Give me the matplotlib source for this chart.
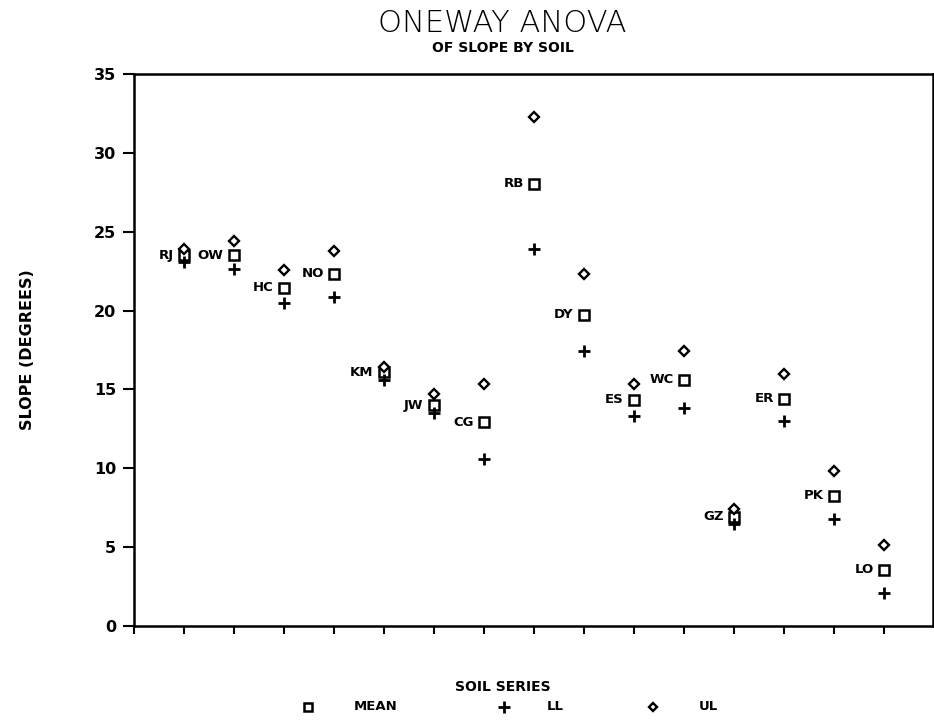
import matplotlib.pyplot as plt

# soil series, in plot order
soils = ['RJ', 'OW', 'HC', 'NO', 'KM', 'JW', 'CG', 'RB', 'DY', 'ES', 'WC', 'GZ', 'ER', 'PK', 'LO']
mean = [23.5, 23.5, 21.45, 22.35, 16.1, 14.0, 12.9, 28.05, 19.75, 14.35, 15.6, 6.9, 14.4, 8.25, 3.55]
ll = [23.1, 22.65, 20.5, 20.85, 15.6, 13.5, 10.6, 23.9, 17.45, 13.3, 13.8, 6.45, 13.0, 6.8, 2.05]
ul = [23.9, 24.45, 22.6, 23.8, 16.4, 14.7, 15.35, 32.3, 22.35, 15.35, 17.45, 7.4, 15.95, 9.8, 5.1]

yticks = [0, 5, 10, 15, 20, 25, 30, 35]

plt.rcParams['font.family'] = ['DejaVu Sans']

fig = plt.figure(figsize=(9.34, 7.25), dpi=100)
ax = fig.add_axes([0.1435, 0.137, 0.855, 0.7605])

x = list(range(1, len(soils) + 1))
ax.plot(x, mean, linestyle='none', marker='s', markersize=6.5, markerfacecolor='white',
        markeredgecolor='black', markeredgewidth=1.8, zorder=3)
ax.plot(x, ll, linestyle='none', marker='+', markersize=9, markeredgecolor='black',
        markeredgewidth=2, zorder=3)
ax.plot(x, ul, linestyle='none', marker='D', markersize=5, markerfacecolor='white',
        markeredgecolor='black', markeredgewidth=1.7, zorder=3)

for xi, yi, name in zip(x, mean, soils):
    ax.annotate(name, (xi, yi), xytext=(-7.5, 0), textcoords='offset points',
                ha='right', va='center', fontsize=9.5, fontweight='bold')

ax.set_xlim(0, 15.97)
ax.set_ylim(0, 35)
ax.set_xticks(range(0, 16))
ax.set_xticklabels([])
ax.set_yticks(yticks)
ax.set_yticklabels([str(v) for v in yticks], fontsize=11.5, fontweight='bold')
ax.tick_params(axis='y', direction='out', length=8, width=1.5, pad=5)
ax.tick_params(axis='x', direction='out', length=6, width=1.5)
for s in ax.spines.values():
    s.set_linewidth(1.8)

ax.set_ylabel('SLOPE (DEGREES)', fontsize=11.5, fontweight='bold', labelpad=42)

fig.text(0.538, 0.968, 'ONEWAY ANOVA', ha='center', va='center', fontsize=22, fontweight='light')
fig.text(0.538, 0.934, 'OF SLOPE BY SOIL', ha='center', va='center', fontsize=10, fontweight='bold')

fig.text(0.538, 0.052, 'SOIL SERIES', ha='center', va='center', fontsize=10, fontweight='bold')
fig.text(0.379, 0.025, 'MEAN', ha='left', va='center', fontsize=9.5, fontweight='bold')
fig.text(0.585, 0.025, 'LL', ha='left', va='center', fontsize=9.5, fontweight='bold')
fig.text(0.748, 0.025, 'UL', ha='left', va='center', fontsize=9.5, fontweight='bold')
fig.lines.append(plt.Line2D([0.33], [0.025], transform=fig.transFigure, marker='s', markersize=6,
                            markerfacecolor='white', markeredgecolor='black', markeredgewidth=1.8))
fig.lines.append(plt.Line2D([0.54], [0.025], transform=fig.transFigure, marker='+', markersize=8,
                            markeredgecolor='black', markeredgewidth=2))
fig.lines.append(plt.Line2D([0.699], [0.025], transform=fig.transFigure, marker='D', markersize=4.5,
                            markerfacecolor='white', markeredgecolor='black', markeredgewidth=1.7))

fig.savefig('out.png', dpi=100)
